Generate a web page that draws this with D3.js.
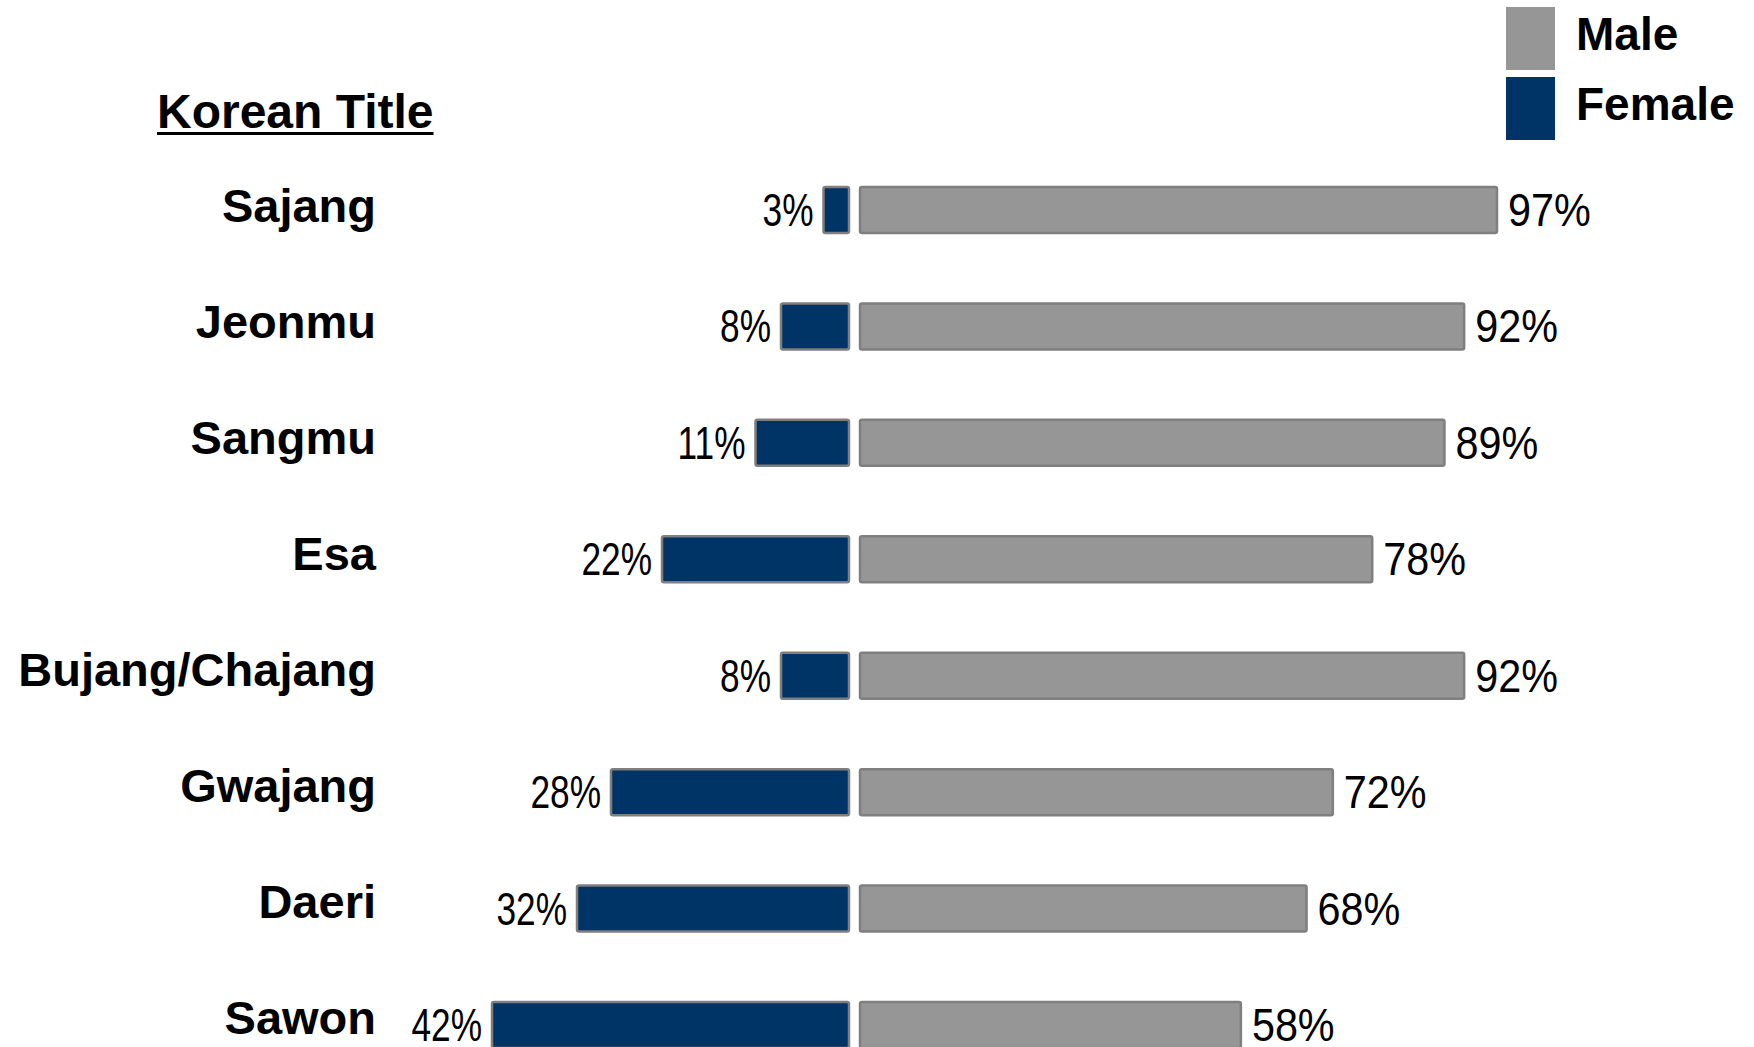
<!DOCTYPE html>
<html>
<head>
<meta charset="utf-8">
<script src="https://cdn.jsdelivr.net/npm/d3@7"></script>
<style>
  html, body { margin: 0; padding: 0; background: #ffffff; }
  svg { display: block; }
  text { font-family: "Liberation Sans", Arial, sans-serif; fill: #000; }
</style>
</head>
<body>
<svg id="chart" width="1754" height="1047"></svg>
<script>
// Share of men and women at each Korean job title
const titles = ["Sajang", "Jeonmu", "Sangmu", "Esa", "Bujang/Chajang", "Gwajang", "Daeri", "Sawon"];
const femalePct = [3, 8, 11, 22, 8, 28, 32, 42];
const malePct = [97, 92, 89, 78, 92, 72, 68, 58];
const legendLabels = ["Male", "Female"];
const headerText = "Korean Title";

const colors = { Male: "#969696", Female: "#003366" };
const barStroke = "#7f7f7f";

const svg = d3.select("#chart");
const W = 1754, H = 1047;
svg.append("rect").attr("width", W).attr("height", H).attr("fill", "#fff");

// Male bars grow right from the centre gap, female bars grow left
const xMale = d3.scaleLinear().domain([0, 100]).range([860, 1516.7]);
const xFemale = d3.scaleLinear().domain([0, 50]).range([849, 424]);

const yRow = d3.scalePoint().domain(titles).range([210, 1025]);
const yLabel = d3.scalePoint().domain(titles).range([222, 1034]);
const barH = 46;

const rows = titles.map((t, i) => ({ title: t, female: femalePct[i], male: malePct[i] }));

// Header
const header = svg.append("text")
  .attr("x", 157).attr("y", 128)
  .attr("font-size", 48).attr("font-weight", "bold")
  .text(headerText);
const hb = header.node().getBBox();
svg.append("rect").attr("x", hb.x).attr("y", 132).attr("width", hb.width).attr("height", 3).attr("fill", "#000");

// Category labels
svg.append("g").selectAll("text").data(rows).join("text")
  .attr("x", 376).attr("y", d => yLabel(d.title))
  .attr("text-anchor", "end")
  .attr("font-size", 47).attr("font-weight", "bold")
  .text(d => d.title);

// Female bars
svg.append("g").selectAll("rect").data(rows).join("rect")
  .attr("x", d => xFemale(d.female))
  .attr("y", d => yRow(d.title) - barH / 2)
  .attr("width", d => xFemale(0) - xFemale(d.female))
  .attr("height", barH)
  .attr("rx", 2)
  .attr("fill", colors.Female)
  .attr("stroke", barStroke).attr("stroke-width", 2.5);

// Male bars
svg.append("g").selectAll("rect").data(rows).join("rect")
  .attr("x", xMale(0))
  .attr("y", d => yRow(d.title) - barH / 2)
  .attr("width", d => xMale(d.male) - xMale(0))
  .attr("height", barH)
  .attr("rx", 2)
  .attr("fill", colors.Male)
  .attr("stroke", barStroke).attr("stroke-width", 2.5);

// Female value labels (narrow type, right-aligned to bar start)
svg.append("g").selectAll("text").data(rows).join("text")
  .attr("transform", d => `translate(${xFemale(d.female) - 10},${yRow(d.title) + 16}) scale(0.75,1)`)
  .attr("text-anchor", "end")
  .attr("font-size", 47)
  .text(d => d.female + "%");

// Male value labels
svg.append("g").selectAll("text").data(rows).join("text")
  .attr("transform", d => `translate(${xMale(d.male) + 11},${yRow(d.title) + 16}) scale(0.88,1)`)
  .attr("text-anchor", "start")
  .attr("font-size", 47)
  .text(d => d.male + "%");

// Legend
const legend = svg.append("g").attr("transform", "translate(1506,7)");
const lg = legend.selectAll("g").data(legendLabels).join("g")
  .attr("transform", (d, i) => `translate(0,${i * 70})`);
lg.append("rect").attr("width", 49).attr("height", 63).attr("fill", d => colors[d]);
lg.append("text").attr("x", 70).attr("y", 43)
  .attr("font-size", 46).attr("font-weight", "bold")
  .text(d => d);
</script>
</body>
</html>
